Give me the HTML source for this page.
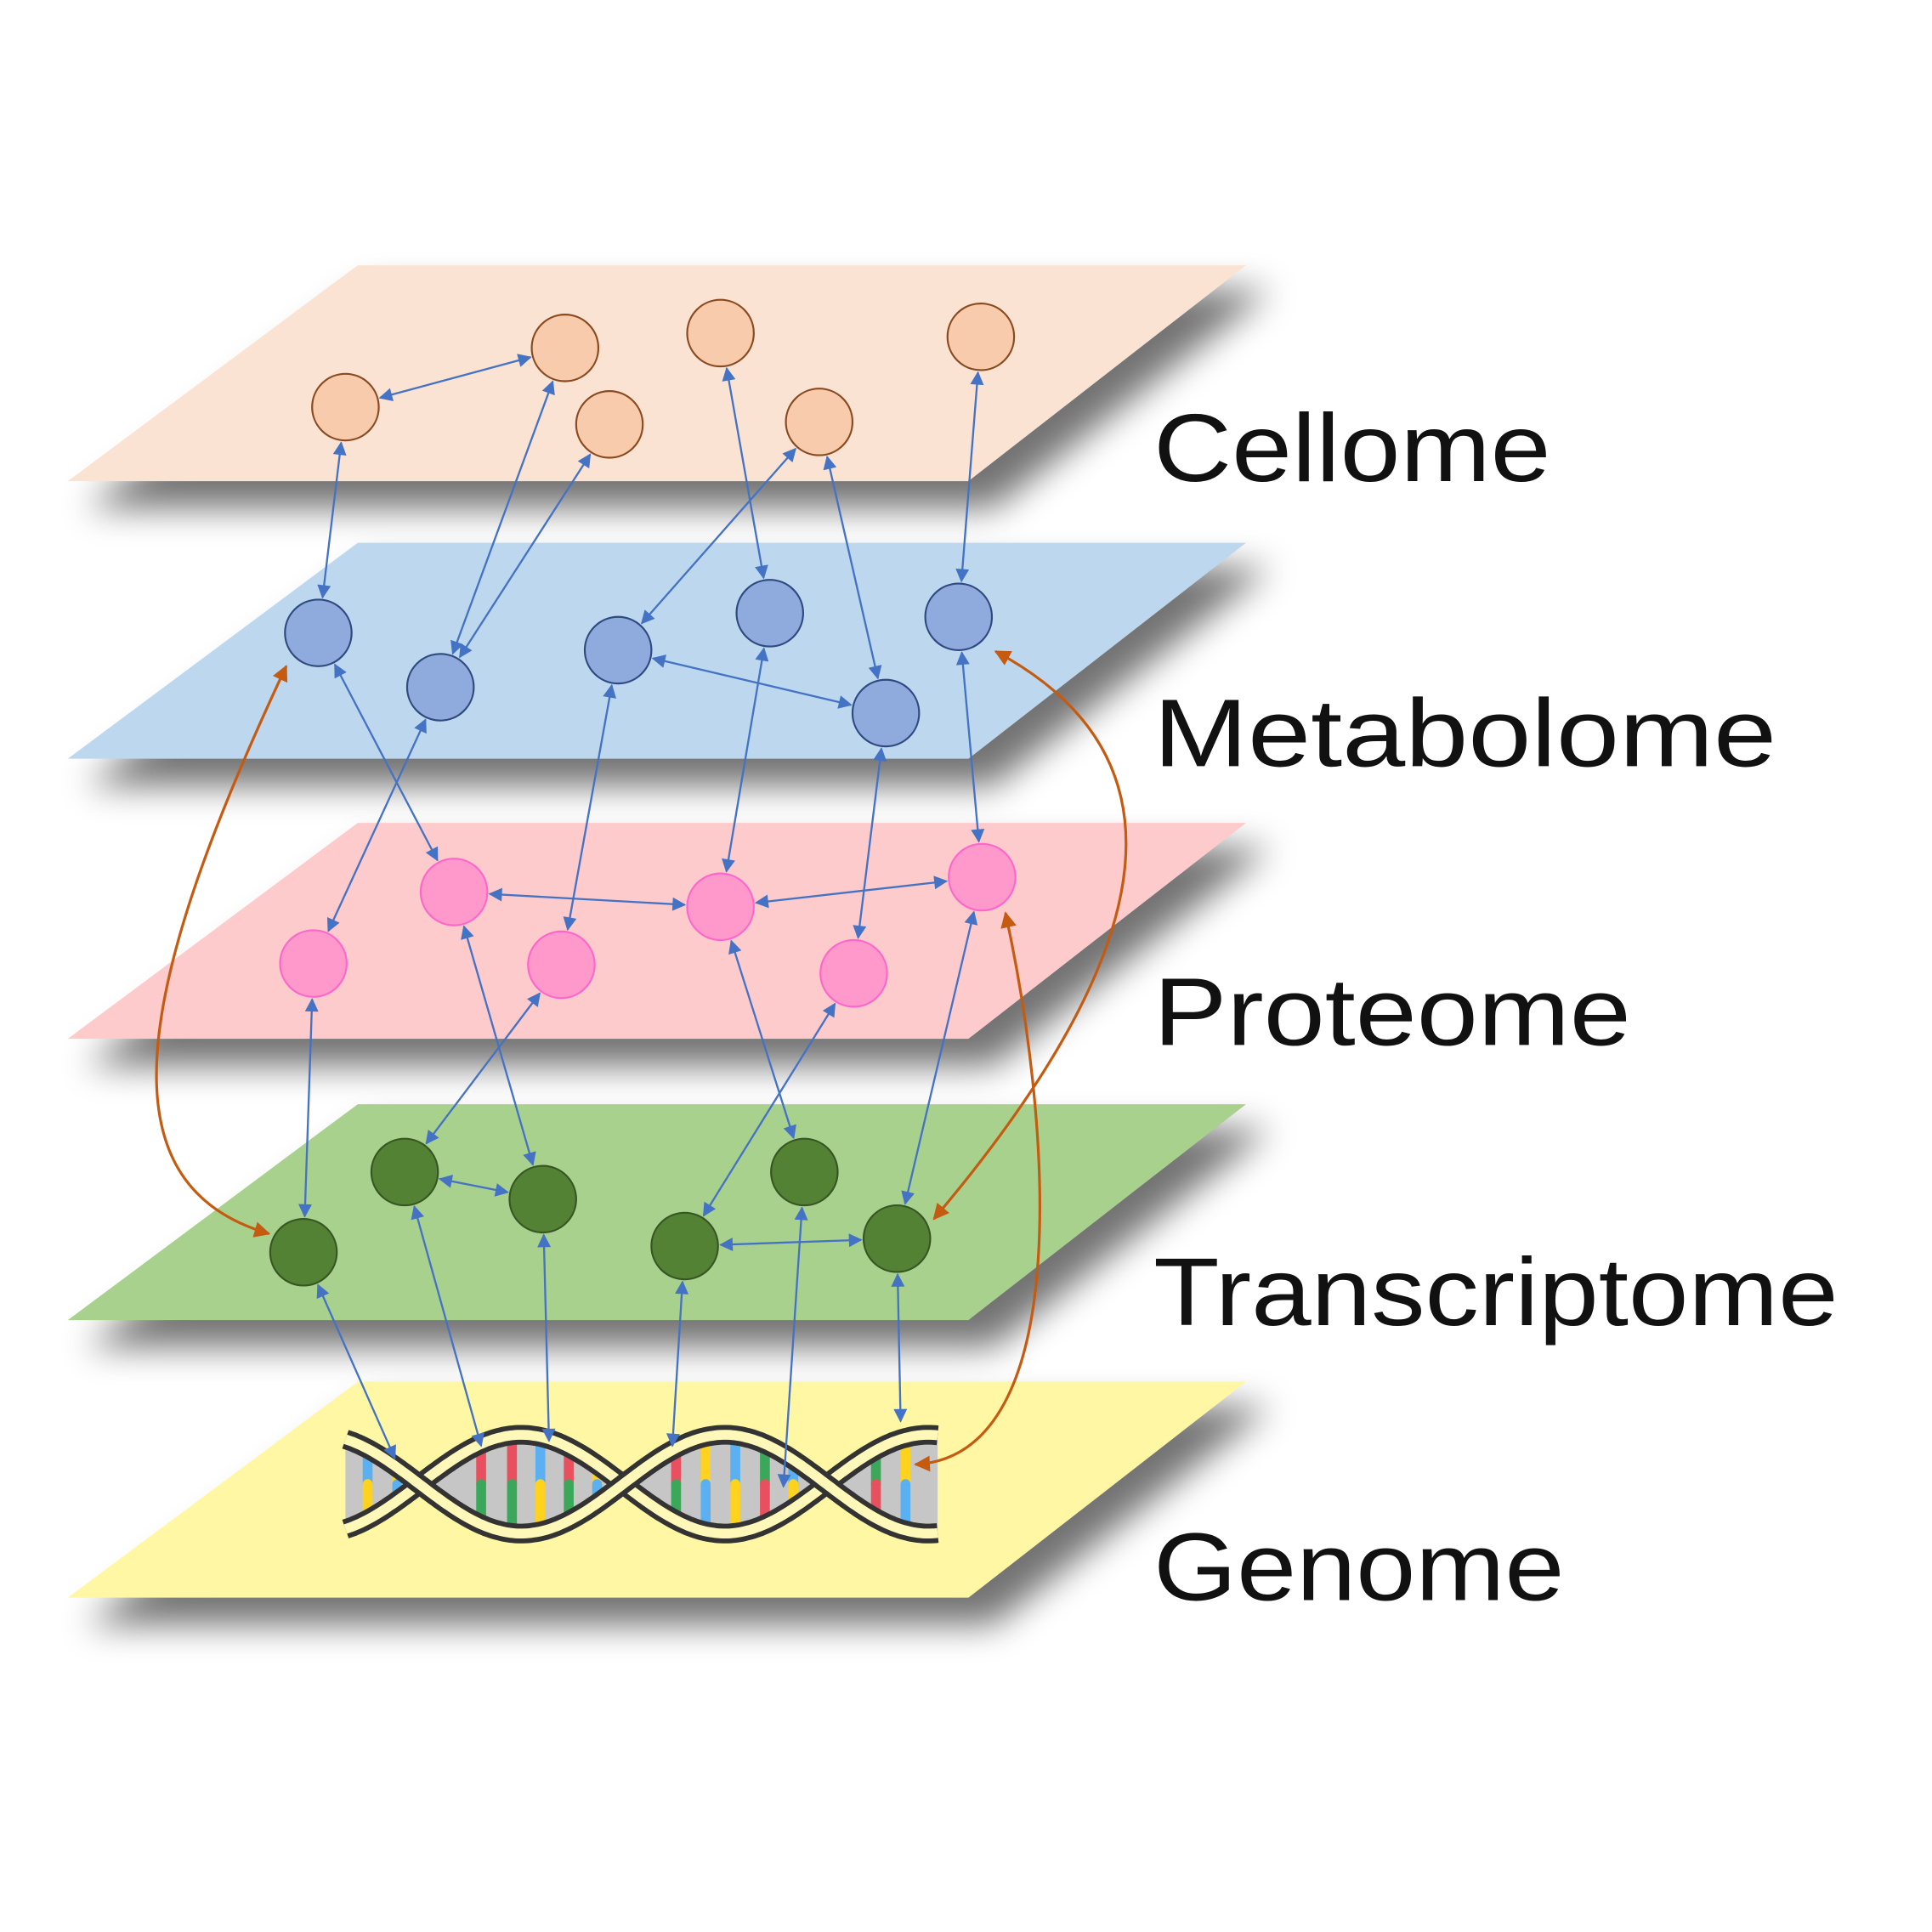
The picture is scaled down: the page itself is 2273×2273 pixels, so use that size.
<!DOCTYPE html>
<html><head><meta charset="utf-8"><style>
html,body{margin:0;padding:0;background:#fff;}
svg{display:block;}
</style></head><body>
<svg id="s" width="2273" height="2273" viewBox="0 0 1566 1566" xmlns="http://www.w3.org/2000/svg">
<defs>
<filter id="sh" x="-20%" y="-50%" width="140%" height="200%"><feGaussianBlur stdDeviation="14"/></filter>
<marker id="ab" viewBox="0 0 10 10" refX="9" refY="5" markerWidth="12" markerHeight="11" orient="auto-start-reverse" markerUnits="userSpaceOnUse"><path d="M0,0L10,5L0,10z" fill="#4472c4"/></marker>
<marker id="ao" viewBox="0 0 10 10" refX="9" refY="5" markerWidth="15" markerHeight="13" orient="auto-start-reverse" markerUnits="userSpaceOnUse"><path d="M0,0L10,5L0,10z" fill="#c55a11"/></marker>
</defs>
<g id="planes"></g>
<g id="dna"></g>
<g id="lines"></g>
<g id="nodes"></g>
<g font-family="Liberation Sans, sans-serif" font-size="78" fill="#111">
<text x="935" y="390" textLength="322" lengthAdjust="spacingAndGlyphs">Cellome</text>
<text x="935" y="621" textLength="505" lengthAdjust="spacingAndGlyphs">Metabolome</text>
<text x="935" y="847" textLength="387" lengthAdjust="spacingAndGlyphs">Proteome</text>
<text x="935" y="1074" textLength="555" lengthAdjust="spacingAndGlyphs">Transcriptome</text>
<text x="935" y="1297" textLength="333" lengthAdjust="spacingAndGlyphs">Genome</text>
</g>
</svg>
<script>
const NS="http://www.w3.org/2000/svg";
function el(p,t,a){const e=document.createElementNS(NS,t);for(const k in a)e.setAttribute(k,a[k]);p.appendChild(e);return e;}
const P=document.getElementById('planes');
const planes=[[215,'#fbe3d4'],[440,'#bdd7ee'],[667,'#fdcbcb'],[895,'#a9d18e'],[1120,'#fff7a3']];
planes.forEach(([y,c])=>{
 const h=175;
 el(P,'polygon',{points:`300,${y+20} 1030,${y+20} 805,${y+h+22} 70,${y+h+22}`,fill:'#000',opacity:'0.55',filter:'url(#sh)'});
 el(P,'polygon',{points:`290,${y} 1010,${y} 785,${y+h} 55,${y+h}`,fill:c});
});
// DNA
const D=document.getElementById('dna');
const x0=280,x1=760,cy=1203,A=40,k=Math.PI/165;
const fA=x=>cy-A*Math.sin(k*(x-340)), fB=x=>cy+A*Math.sin(k*(x-340));
function pathOf(f){let d='';for(let x=x0;x<=x1;x+=2){d+=(x==x0?'M':'L')+x+','+f(x).toFixed(1);}return d;}
// gray in alternating lobes
let fill='';for(let x=x0;x<=x1;x+=2){fill+=(x==x0?'M':'L')+x+','+fA(x).toFixed(1);}
for(let x=x1;x>=x0;x-=2){fill+='L'+x+','+fB(x).toFixed(1);}
el(D,'path',{d:fill+'z',fill:'#c6c6c6'});
const bars=[[298,'#5ab0f0','#ffd21e'],[322,'#ffd21e','#5ab0f0'],[390,'#e8505f','#3aa75a'],[415,'#e8505f','#3aa75a'],[438,'#5ab0f0','#ffd21e'],[461,'#e8505f','#3aa75a'],[484,'#ffd21e','#5ab0f0'],[548,'#e8505f','#3aa75a'],[572,'#ffd21e','#5ab0f0'],[596,'#5ab0f0','#ffd21e'],[620,'#3aa75a','#e8505f'],[643,'#5ab0f0','#ffd21e'],[710,'#3aa75a','#e8505f'],[734,'#ffd21e','#5ab0f0']];
bars.forEach(([x,a,b])=>{const t=Math.min(fA(x),fB(x))+6,bt=Math.max(fA(x),fB(x))-6;if(bt-t<8)return;const m=(t+bt)/2;
 el(D,'line',{x1:x,y1:t,x2:x,y2:m,stroke:a,'stroke-width':8,'stroke-linecap':'round'});el(D,'line',{x1:x,y1:m,x2:x,y2:bt,stroke:b,'stroke-width':8,'stroke-linecap':'round'});});
[fA,fB].forEach(f=>{el(D,'path',{d:pathOf(f),fill:'none',stroke:'#333','stroke-width':16});el(D,'path',{d:pathOf(f),fill:'none',stroke:'#fff8b8','stroke-width':8});});
// nodes
const N={
c1:[280,330],c2:[458,282],c3:[494,344],c4:[584,270],c5:[664,342],c6:[795,273],
m1:[258,513],m2:[357,557],m3:[501,527],m4:[624,497],m5:[718,578],m6:[777,500],
p1:[368,723],p2:[254,781],p3:[455,782],p4:[584,735],p5:[692,789],p6:[796,711],
t1:[328,950],t2:[440,972],t3:[246,1015],t4:[555,1010],t5:[652,950],t6:[727,1004]};
const sty={c:['#f8cbad','#8a4a20'],m:['#8faadc','#2f4a80'],p:['#ff99cc','#ff66cc'],t:['#548235','#375623']};
const R=27;
const edges=[['c1','c2'],['c1','m1'],['c2','m2'],['c3','m2'],['c4','m4'],['c5','m3'],['c5','m5'],['c6','m6'],['m3','m5'],
['m1','p1'],['m2','p2'],['m3','p3'],['m4','p4'],['m5','p5'],['m6','p6'],['p1','p4'],['p4','p6'],
['p2','t3'],['p1','t2'],['p3','t1'],['p4','t5'],['p5','t4'],['p6','t6'],['t1','t2'],['t4','t6'],
['t3',[320,1182]],['t1',[390,1172]],['t2',[445,1168]],['t4',[545,1172]],['t5',[635,1205]],['t6',[730,1152]]];
const L=document.getElementById('lines');
edges.forEach(([a,b])=>{
 const p=N[a];const q=typeof b=='string'?N[b]:b;const rb=typeof b=='string'?R+2:0;
 const dx=q[0]-p[0],dy=q[1]-p[1],l=Math.hypot(dx,dy);
 el(L,'line',{x1:p[0]+dx/l*(R+2),y1:p[1]+dy/l*(R+2),x2:q[0]-dx/l*rb,y2:q[1]-dy/l*rb,stroke:'#4472c4','stroke-width':1.6,'marker-start':'url(#ab)','marker-end':'url(#ab)'});
});
['M232,540 C110,800 80,960 218,1000','M807,528 C960,610 950,760 757,988','M815,740 C850,900 875,1180 742,1187'].forEach(d=>{
 el(L,'path',{d,fill:'none',stroke:'#c55a11','stroke-width':2.2,'marker-start':'url(#ao)','marker-end':'url(#ao)'});});
const G=document.getElementById('nodes');
for(const k2 in N){const s=sty[k2[0]];el(G,'circle',{cx:N[k2][0],cy:N[k2][1],r:R,fill:s[0],stroke:s[1],'stroke-width':1.5});}
</script>
</body></html>
